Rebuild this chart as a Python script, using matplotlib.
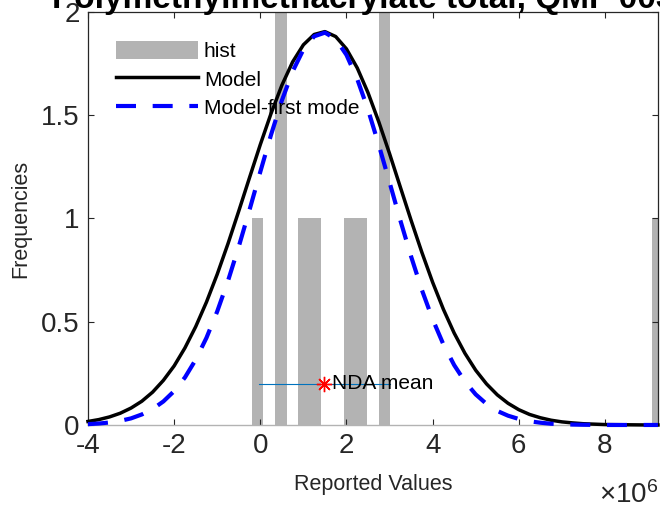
import matplotlib
matplotlib.use('Agg')
import matplotlib.pyplot as plt

plt.rcParams['font.family'] = ['Liberation Sans', 'DejaVu Sans']
plt.rcParams['mathtext.fontset'] = 'custom'
plt.rcParams['mathtext.rm'] = 'Liberation Sans'

# x values are in units of 1e6
# histogram of reported values
bin_left = [-0.193, 0.342, 0.877, 1.144, 1.946, 2.213, 2.748, 9.086]
bin_count = [1, 2, 1, 1, 1, 1, 2, 1]
bin_width = 0.267

# model curves
model_x = [-4.0, -3.75, -3.5, -3.25, -3.0, -2.75, -2.5, -2.25, -2.0, -1.75,
           -1.5, -1.25, -1.0, -0.75, -0.5, -0.25, 0.0, 0.25, 0.5, 0.75,
           1.0, 1.25, 1.5, 1.75, 2.0, 2.25, 2.5, 2.75, 3.0, 3.25,
           3.5, 3.75, 4.0, 4.25, 4.5, 4.75, 5.0, 5.25, 5.5, 5.75,
           6.0, 6.25, 6.5, 6.75, 7.0, 7.25, 7.5, 8.0, 8.5, 9.0, 9.23]
model_y = [0.017, 0.026, 0.039, 0.057, 0.082, 0.115, 0.159, 0.216, 0.286, 0.373,
           0.476, 0.595, 0.730, 0.878, 1.036, 1.198, 1.358, 1.509, 1.645, 1.758,
           1.841, 1.891, 1.905, 1.881, 1.821, 1.729, 1.609, 1.468, 1.314, 1.152,
           0.991, 0.836, 0.691, 0.560, 0.445, 0.347, 0.265, 0.199, 0.146, 0.105,
           0.074, 0.051, 0.035, 0.023, 0.015, 0.010, 0.006, 0.002, 0.001, 0.000, 0.000]
first_mode_y = [0.004, 0.007, 0.012, 0.020, 0.032, 0.051, 0.077, 0.114, 0.164, 0.230,
                0.316, 0.422, 0.550, 0.698, 0.864, 1.042, 1.226, 1.406, 1.571, 1.712,
                1.818, 1.882, 1.900, 1.869, 1.792, 1.675, 1.527, 1.356, 1.175, 0.991,
                0.816, 0.654, 0.512, 0.390, 0.290, 0.210, 0.148, 0.102, 0.068, 0.045,
                0.029, 0.018, 0.011, 0.006, 0.004, 0.002, 0.001, 0.000, 0.000, 0.000, 0.000]

# NDA mean marker and range line
nda_mean = 1.49
nda_y = 0.2
nda_range = [-0.04, 3.0]

x_ticks = [-4, -2, 0, 2, 4, 6, 8]
y_ticks = [0, 0.5, 1, 1.5, 2]

dark = '#262626'

fig = plt.figure(figsize=(6.6, 5.14), dpi=100)
ax = fig.add_axes([0.1333, 0.1732, 0.8636, 0.8035])

bars = ax.bar(bin_left, bin_count, width=bin_width, align='edge',
              color='#b3b3b3', edgecolor='none', label='hist', zorder=1)
line_model, = ax.plot(model_x, model_y, color='black', lw=2.5, label='Model',
                      zorder=3, clip_on=False)
line_mode, = ax.plot(model_x, first_mode_y, color='blue', lw=3,
                     linestyle=(0, (4.8, 4.0)), label='Model-first mode',
                     zorder=4, clip_on=False)

ax.plot(nda_range, [nda_y, nda_y], color='#0072BD', lw=0.8, zorder=5)
ax.plot([nda_mean], [nda_y], marker=(8, 2, 0), color='red', markersize=11,
        markeredgewidth=1.0, linestyle='none', zorder=6)
ax.text(nda_mean + 0.18, nda_y, 'NDA mean', fontsize=15, va='center',
        ha='left', color='black', zorder=7)

ax.set_xlim(-4, 9.23)
ax.set_ylim(0, 2)
ax.set_xticks(x_ticks)
ax.set_yticks(y_ticks)
ax.set_xticklabels([str(t) for t in x_ticks])
ax.set_yticklabels(['0', '0.5', '1', '1.5', '2'])
ax.tick_params(direction='in', length=4, width=0.8, top=True, right=True,
               labelsize=20, colors=dark, pad=6)

for side in ['top', 'left', 'right']:
    ax.spines[side].set_color(dark)
    ax.spines[side].set_linewidth(0.9)
ax.spines['bottom'].set_color('#b3b3b3')
ax.spines['bottom'].set_linewidth(1.0)

ax.set_xlabel('Reported Values', fontsize=15.5, color=dark)
ax.set_ylabel('Frequencies', fontsize=15.5, color=dark)
ax.xaxis.set_label_coords(0.5, -0.118)
ax.yaxis.set_label_coords(-0.1, 0.5)

ax.text(1.0, -0.19, r'$\mathregular{\times10^{6}}$', transform=ax.transAxes,
        fontsize=20, ha='right', va='baseline', color=dark)

ax.set_title('Polymethylmethacrylate total, QMF 003l.', fontsize=24,
             fontweight='bold', pad=3)

# legend order: hist, Model, Model-first mode
ax.legend([bars, line_model, line_mode], ['hist', 'Model', 'Model-first mode'],
          loc='upper left', bbox_to_anchor=(0.05, 0.93), frameon=False,
          fontsize=15, handlelength=3.9, handleheight=0.95,
          handletextpad=0.3, labelspacing=0.4, borderpad=0,
          borderaxespad=0)

plt.savefig('out.png', dpi=100)
